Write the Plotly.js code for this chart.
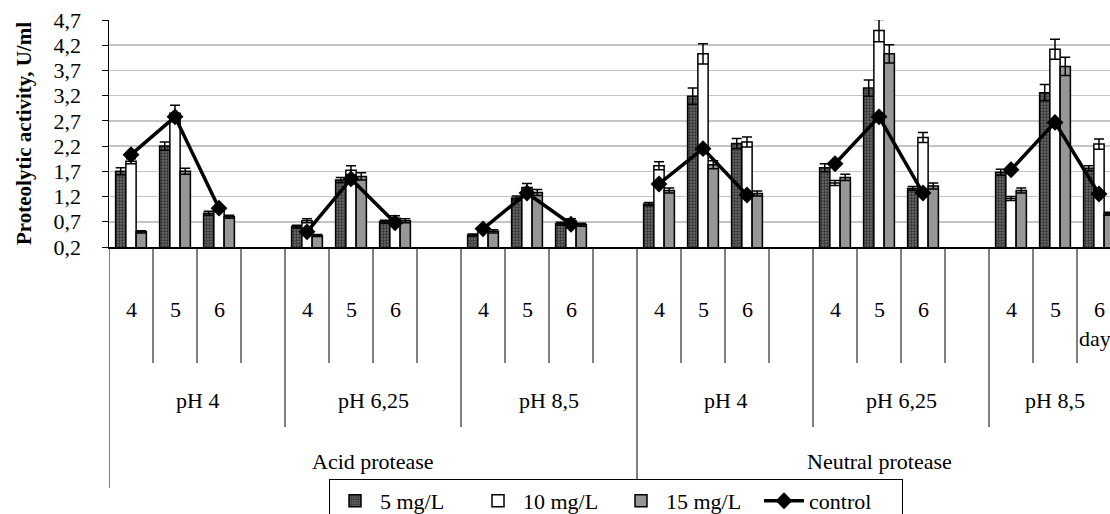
<!DOCTYPE html>
<html>
<head>
<meta charset="utf-8">
<script src="https://cdn.plot.ly/plotly-3.0.1.min.js"></script>
<style>
html,body{margin:0;padding:0;overflow:hidden;background:#fff;}
#chart{width:1110px;height:514px;}
</style>
</head>
<body>
<div id="chart"></div>
<script>
// ---- data ----
const dayLabels = ['4', '5', '6'];
const phLabels = ['pH 4', 'pH 6,25', 'pH 8,5', 'pH 4', 'pH 6,25', 'pH 8,5'];
const proteaseLabels = ['Acid protease', 'Neutral protease'];
const seriesNames = ['5 mg/L', '10 mg/L', '15 mg/L', 'control'];
const yTickVals = [0.2, 0.7, 1.2, 1.7, 2.2, 2.7, 3.2, 3.7, 4.2, 4.7];
const yTitle = 'Proteolytic activity, U/ml';
const axisUnitLabel = 'day';

// values in order: [Acid pH4 d4,d5,d6, Acid pH6,25 ..., Acid pH8,5 ..., Neutral pH4 ..., Neutral pH6,25 ..., Neutral pH8,5 ...]
const s5 = [1.70, 2.20, 0.87, 0.60, 1.53, 0.70, 0.44, 1.17, 0.66, 1.05, 3.19, 2.25, 1.77, 3.35, 1.36, 1.68, 3.26, 1.76];
const s5err = [0.07, 0.08, 0.04, 0.03, 0.05, 0.03, 0.02, 0.04, 0.03, 0.03, 0.16, 0.10, 0.08, 0.16, 0.04, 0.06, 0.16, 0.05];
const s10 = [1.90, 2.85, 0.98, 0.72, 1.72, 0.77, 0.55, 1.38, 0.72, 1.81, 4.03, 2.28, 1.47, 4.49, 2.37, 1.16, 4.12, 2.24];
const s10err = [0.05, 0.16, 0.04, 0.04, 0.09, 0.05, 0.03, 0.08, 0.04, 0.08, 0.20, 0.10, 0.05, 0.22, 0.10, 0.04, 0.20, 0.10];
const s15 = [0.50, 1.70, 0.80, 0.43, 1.60, 0.72, 0.51, 1.28, 0.64, 1.32, 1.83, 1.26, 1.58, 4.03, 1.41, 1.32, 3.78, 0.86];
const s15err = [0.02, 0.06, 0.03, 0.02, 0.07, 0.04, 0.03, 0.06, 0.03, 0.05, 0.08, 0.05, 0.06, 0.18, 0.06, 0.05, 0.18, 0.03];
const control = [2.03, 2.78, 0.97, 0.50, 1.55, 0.68, 0.56, 1.27, 0.65, 1.45, 2.15, 1.23, 1.85, 2.78, 1.27, 1.73, 2.67, 1.25];

// ---- geometry helpers (category slots) ----
const nGroups = phLabels.length;
const nDays = dayLabels.length;
const slotsPerGroup = nDays + 1;           // one empty slot between pH groups
const groupsPerProtease = nGroups / proteaseLabels.length;
const xIdx = [];
for (let g = 0; g < nGroups; g++) for (let d = 0; d < nDays; d++) xIdx.push(g * slotsPerGroup + d);
const lastSlot = (nGroups - 1) * slotsPerGroup + nDays - 1;

// control line: break between pH groups
const cx = [], cy = [];
for (let g = 0; g < nGroups; g++) {
  for (let d = 0; d < nDays; d++) { cx.push(g * slotsPerGroup + d); cy.push(control[g * nDays + d]); }
  if (g < nGroups - 1) { cx.push(g * slotsPerGroup + nDays); cy.push(null); }
}

const FONT = '"Liberation Serif", "Times New Roman", Times, serif';
const errStyle = {type: 'data', visible: true, color: '#000', thickness: 1.5, width: 5};

const traces = [
  {type: 'bar', name: seriesNames[0], x: xIdx, y: s5,
   marker: {color: '#5a5a5a', line: {color: '#000', width: 1.5},
            pattern: {shape: '.', fgcolor: '#2e2e2e', bgcolor: '#6a6a6a', size: 3, solidity: 0.45}},
   error_y: Object.assign({array: s5err}, errStyle)},
  {type: 'bar', name: seriesNames[1], x: xIdx, y: s10,
   marker: {color: '#ffffff', line: {color: '#000', width: 1.5}},
   error_y: Object.assign({array: s10err}, errStyle)},
  {type: 'bar', name: seriesNames[2], x: xIdx, y: s15,
   marker: {color: '#969696', line: {color: '#000', width: 1.5}},
   error_y: Object.assign({array: s15err}, errStyle)},
  {type: 'scatter', mode: 'lines+markers', name: seriesNames[3], x: cx, y: cy,
   connectgaps: false,
   line: {color: '#000', width: 3.5},
   marker: {symbol: 'diamond', size: 13, color: '#000'}}
];

// ---- plot area pixels ----
const W = 1110, H = 514;
const mL = 109, mT = 20, plotBottom = 247;
const plotH = plotBottom - mT;
const py = (pix) => (plotBottom - pix) / plotH;   // pixel row -> paper y

const annotations = [];
const shapes = [];
const lblFont = {family: FONT, size: 22, color: '#000'};

// day labels
xIdx.forEach((x, i) => {
  annotations.push({xref: 'x', yref: 'paper', x: x, y: py(309), text: dayLabels[i % nDays],
    showarrow: false, xanchor: 'center', yanchor: 'middle', font: lblFont});
});
annotations.push({xref: 'x', yref: 'paper', x: lastSlot - 0.5, xshift: 0, y: py(338), text: axisUnitLabel,
  showarrow: false, xanchor: 'left', yanchor: 'middle', font: lblFont});

// pH labels
for (let g = 0; g < nGroups; g++) {
  const start = g * slotsPerGroup;
  const end = (g === nGroups - 1) ? lastSlot : start + slotsPerGroup - 1;
  annotations.push({xref: 'x', yref: 'paper', x: (start + end) / 2, y: py(400), text: phLabels[g],
    showarrow: false, xanchor: 'center', yanchor: 'middle', font: lblFont});
}
// protease labels
for (let p = 0; p < proteaseLabels.length; p++) {
  const start = p * groupsPerProtease * slotsPerGroup;
  const end = (p === proteaseLabels.length - 1) ? lastSlot : start + groupsPerProtease * slotsPerGroup - 1;
  annotations.push({xref: 'x', yref: 'paper', x: (start + end) / 2, y: py(461), text: proteaseLabels[p],
    showarrow: false, xanchor: 'center', yanchor: 'middle', font: lblFont});
}

// divider lines under the axis
for (let k = 0; k <= lastSlot; k++) {
  let bottom;
  if (k % (groupsPerProtease * slotsPerGroup) === 0) bottom = 488;
  else if (k % slotsPerGroup === 0) bottom = 427;
  else bottom = 363;
  shapes.push({type: 'line', xref: 'x', yref: 'paper', x0: k - 0.5, x1: k - 0.5, y0: 0, y1: py(bottom),
    line: {color: '#000', width: 1}});
}

const layout = {
  width: W, height: H,
  margin: {l: mL, r: 0, t: mT, b: H - plotBottom, pad: 0, autoexpand: false},
  paper_bgcolor: '#fff', plot_bgcolor: '#fff',
  font: {family: FONT, size: 22, color: '#000'},
  separators: ', ',
  barmode: 'group', bargap: 0.3, bargroupgap: 0,
  showlegend: true,
  legend: {orientation: 'h', x: (616 - mL) / (W - mL), xanchor: 'center', y: py(479), yanchor: 'top',
    bordercolor: '#000', borderwidth: 1, bgcolor: '#fff', font: {family: FONT, size: 22, color: '#000'},
    itemwidth: 40, traceorder: 'normal', entrywidth: 88, entrywidthmode: 'pixels'},
  xaxis: {type: 'linear', range: [-0.5, -0.5 + (W - mL) / 44], showticklabels: false, ticks: '',
    showgrid: false, zeroline: false, showline: true, linecolor: '#000', linewidth: 1.5, fixedrange: true},
  yaxis: {range: [0.2, 4.7], tickvals: yTickVals, tickformat: '.1f', ticks: 'outside', ticklen: 6,
    tickcolor: '#000', tickwidth: 1, ticklabelstandoff: 16,
    showgrid: true, gridcolor: '#c4c4c4', gridwidth: 1.5, zeroline: false,
    showline: true, linecolor: '#000', linewidth: 1.5,
    tickfont: {family: FONT, size: 22, color: '#000'},
    title: {text: yTitle, standoff: 16, font: {family: FONT, size: 21, color: '#000', weight: 'bold'}}},
  annotations: annotations,
  shapes: shapes
};

Plotly.newPlot('chart', traces, layout, {staticPlot: true, displayModeBar: false});
</script>
</body>
</html>
